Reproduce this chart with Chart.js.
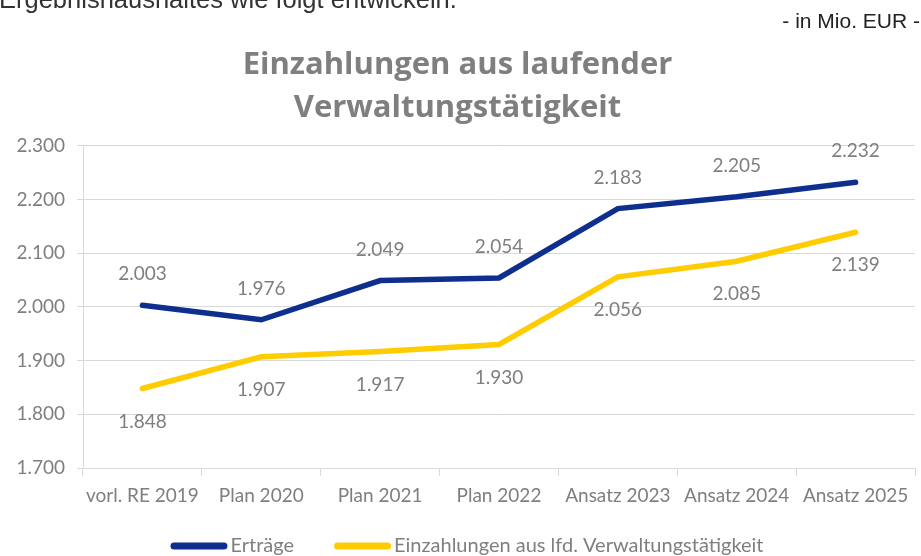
<!DOCTYPE html>
<html>
<head>
<meta charset="utf-8">
<script src="https://cdn.jsdelivr.net/npm/chart.js@4.4.1/dist/chart.umd.min.js"></script>
<style>
  html, body { margin: 0; padding: 0; background: #fff; }
  #wrap { position: relative; width: 921px; height: 556px; overflow: hidden; }
  #intro { position: absolute; left: -1px; top: -15px; font: 25.5px "Liberation Sans", Arial, sans-serif; color: #333; white-space: nowrap; }
  #unit { position: absolute; right: 1px; top: 9px; font: 21px "Liberation Sans", Arial, sans-serif; color: #222; }
  #chart { position: absolute; left: 0; top: 0; }
</style>
</head>
<body>
<div id="wrap">
  <canvas id="chart" width="921" height="556"></canvas>
  <div id="intro">Ergebnishaushaltes wie folgt entwickeln.</div>
  <div id="unit">- in Mio. EUR -</div>
</div>
<script>
// categories and values (Mio. EUR)
const categories = ['vorl. RE 2019', 'Plan 2020', 'Plan 2021', 'Plan 2022', 'Ansatz 2023', 'Ansatz 2024', 'Ansatz 2025'];
const ertraege = [2003, 1976, 2049, 2054, 2183, 2205, 2232];
const einzahlungen = [1848, 1907, 1917, 1930, 2056, 2085, 2139];
const yTicks = [1700, 1800, 1900, 2000, 2100, 2200, 2300];

const textGray = '#7f7f7f';
const fontFamily = 'Lato, "Open Sans", sans-serif';

// German thousands separator: 2003 -> "2.003"
function fmt(v) {
    const s = String(Math.round(v));
    return s.replace(/\B(?=(\d{3})+(?!\d))/g, '.');
}

// draws the value labels: Erträge above, Einzahlungen below
const valueLabels = {
    id: 'valueLabels',
    afterDatasetsDraw(chart) {
        const ctx = chart.ctx;
        ctx.save();
        ctx.font = '19px ' + fontFamily;
        ctx.fillStyle = textGray;
        ctx.textAlign = 'center';
        ctx.textBaseline = 'middle';
        chart.data.datasets.forEach((ds, i) => {
            const meta = chart.getDatasetMeta(i);
            meta.data.forEach((pt, j) => {
                const dy = i === 0 ? -31 : 33;
                ctx.fillText(fmt(ds.data[j]), pt.x, pt.y + dy);
            });
        });
        ctx.restore();
    }
};

// legend at the bottom: line sample right next to its text, like the original
const lineLegend = {
    id: 'lineLegend',
    afterDraw(chart) {
        const ctx = chart.ctx;
        const y = 546, sample = 57, gap = 3, spacing = 40, center = 467;
        ctx.save();
        ctx.font = '20px ' + fontFamily;
        ctx.textBaseline = 'middle';
        ctx.textAlign = 'left';
        const items = chart.data.datasets.map(ds => ({ text: ds.label, color: ds.borderColor, w: ctx.measureText(ds.label).width }));
        const total = items.reduce((s, it) => s + sample + gap + it.w, 0) + spacing * (items.length - 1);
        let x = center - total / 2;
        items.forEach(it => {
            ctx.strokeStyle = it.color;
            ctx.lineWidth = 7;
            ctx.lineCap = 'round';
            ctx.beginPath();
            ctx.moveTo(x + 3.5, y);
            ctx.lineTo(x + sample - 3.5, y);
            ctx.stroke();
            ctx.fillStyle = textGray;
            ctx.fillText(it.text, x + sample + gap, y);
            x += sample + gap + it.w + spacing;
        });
        ctx.restore();
    }
};

new Chart(document.getElementById('chart'), {
    type: 'line',
    data: {
        labels: categories,
        datasets: [
            {
                label: 'Erträge',
                data: ertraege,
                borderColor: '#0f2f8f',
                backgroundColor: '#0f2f8f',
                borderWidth: 5.5,
                borderCapStyle: 'round',
                pointRadius: 0,
                tension: 0
            },
            {
                label: 'Einzahlungen aus lfd. Verwaltungstätigkeit',
                data: einzahlungen,
                borderColor: '#ffcc00',
                backgroundColor: '#ffcc00',
                borderWidth: 5.5,
                borderCapStyle: 'round',
                pointRadius: 0,
                tension: 0
            }
        ]
    },
    options: {
        responsive: false,
        animation: false,
        events: [],
        layout: { padding: { left: 0, right: 6, top: 0, bottom: 0 } },
        plugins: {
            title: {
                display: true,
                text: ['Einzahlungen aus laufender', 'Verwaltungstätigkeit'],
                color: textGray,
                font: { family: '"Open Sans", Lato, sans-serif', size: 31, weight: 'bold', lineHeight: 1.4 },
                padding: { top: 43, bottom: 16 }
            },
            legend: { display: false },
            tooltip: { enabled: false }
        },
        scales: {
            x: {
                offset: true,
                afterFit(scale) { scale.height = 88; },
                grid: { display: true, drawOnChartArea: false, offset: true, color: '#d9d9d9', tickLength: 8 },
                border: { color: '#d9d9d9' },
                ticks: { color: textGray, font: { family: fontFamily, size: 19 }, padding: 8, maxRotation: 0, autoSkip: false }
            },
            y: {
                min: 1700,
                max: 2300,
                afterBuildTicks(scale) { scale.ticks = yTicks.map(v => ({ value: v })); },
                afterFit(scale) { scale.width = 83; },
                grid: { color: '#d9d9d9', tickLength: 6 },
                border: { color: '#d9d9d9' },
                ticks: { color: textGray, font: { family: fontFamily, size: 19 }, padding: 12, callback: v => fmt(v) }
            }
        }
    },
    plugins: [valueLabels, lineLegend]
});
</script>
</body>
</html>
